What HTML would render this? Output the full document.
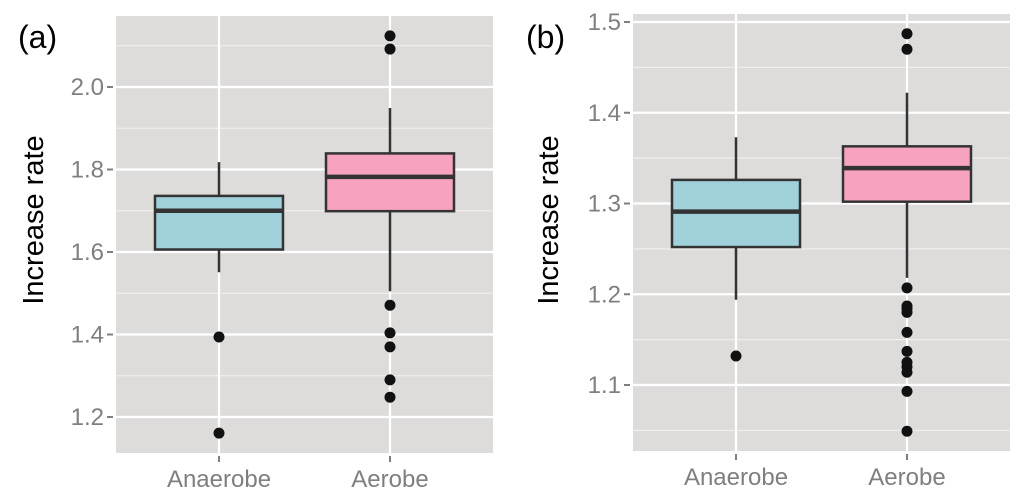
<!DOCTYPE html>
<html><head><meta charset="utf-8"><style>
html,body{margin:0;padding:0;background:#fff;}
svg{display:block;font-family:"Liberation Sans",Arial,sans-serif;}
</style></head><body>
<svg id="chart" width="1024" height="504" viewBox="0 0 1024 504" xmlns="http://www.w3.org/2000/svg"></svg>
<script>
const categories = ["Anaerobe","Aerobe"];
// panel a
const aTicks = [1.2,1.4,1.6,1.8,2.0];
const aTickLabels = ["1.2","1.4","1.6","1.8","2.0"];
const aLow = [1.551,1.505];
const aQ1 = [1.606,1.699];
const aMed = [1.700,1.782];
const aQ3 = [1.736,1.839];
const aHigh = [1.818,1.949];
const aOutAnaerobe = [1.394,1.161];
const aOutAerobe = [2.124,2.092,1.471,1.404,1.370,1.290,1.248];
// panel b
const bTicks = [1.1,1.2,1.3,1.4,1.5];
const bTickLabels = ["1.1","1.2","1.3","1.4","1.5"];
const bLow = [1.194,1.218];
const bQ1 = [1.252,1.302];
const bMed = [1.291,1.339];
const bQ3 = [1.326,1.363];
const bHigh = [1.373,1.422];
const bOutAnaerobe = [1.132];
const bOutAerobe = [1.487,1.470,1.207,1.187,1.184,1.180,1.158,1.137,1.125,1.120,1.114,1.093,1.049];

const NS="http://www.w3.org/2000/svg";
const svg=document.getElementById('chart');
function mk(tag,attrs,parent,text){const e=document.createElementNS(NS,tag);for(const k in attrs)e.setAttribute(k,attrs[k]);if(text!==undefined)e.textContent=text;(parent||svg).appendChild(e);return e;}
const fills=["#a0d1db","#f7a3bf"];

function panel(id,label,o){
  const g=mk('g',{});
  
  
  const y=v=>o.y0+(o.v0-v)*o.k;
  const x=i=>o.cx[i];
  const bg=mk('rect',{x:o.L,y:o.T,width:o.R-o.L,height:o.B-o.T,fill:'#dedcdb'},g);
  
  
  for(let i=0;i<o.ticks.length-1;i++){
    const m=(o.ticks[i]+o.ticks[i+1])/2;
    mk('line',{x1:o.L,x2:o.R,y1:y(m),y2:y(m),stroke:'#f2f2f2','stroke-width':1},g);
  }
  const lo=o.ticks[0]-(o.ticks[1]-o.ticks[0])/2, hi=o.ticks[o.ticks.length-1]+(o.ticks[1]-o.ticks[0])/2;
  [lo,hi].forEach(m=>{if(y(m)>o.T&&y(m)<o.B)mk('line',{x1:o.L,x2:o.R,y1:y(m),y2:y(m),stroke:'#f2f2f2','stroke-width':1},g);});
  o.ticks.forEach((t,i)=>{
    const gl=mk('line',{x1:o.L,x2:o.R,y1:y(t),y2:y(t),stroke:'#fff','stroke-width':2.2},g);
    
    
    mk('line',{x1:o.L-9,x2:o.L-3,y1:y(t),y2:y(t),stroke:'#7f7f7f','stroke-width':2},g);
    const tl=mk('text',{x:o.L-12,y:y(t)+8,'text-anchor':'end','font-size':24,fill:'#7f7f7f'},g,o.tickLabels[i]);
    
    
  });
  categories.forEach((c,i)=>{
    mk('line',{x1:x(i),x2:x(i),y1:o.T,y2:o.B,stroke:'#fff','stroke-width':2.2},g);
    mk('line',{x1:x(i),x2:x(i),y1:o.B+3,y2:o.B+9,stroke:'#7f7f7f','stroke-width':2},g);
    const xl=mk('text',{x:x(i),y:o.B+34,'text-anchor':'middle','font-size':24,fill:'#7f7f7f'},g,c);
    
    
    const w=o.bw;
    const wh=mk('line',{x1:x(i),x2:x(i),y1:y(o.high[i]),y2:y(o.low[i]),stroke:'#333','stroke-width':2.5},g);
    
    
    const bx=mk('rect',{x:x(i)-w/2,y:y(o.q3[i]),width:w,height:y(o.q1[i])-y(o.q3[i]),fill:fills[i],stroke:'#333','stroke-width':2.5},g);
    
    
    const md=mk('line',{x1:x(i)-w/2,x2:x(i)+w/2,y1:y(o.med[i]),y2:y(o.med[i]),stroke:'#333','stroke-width':4.5},g);
    
    
    o.outs[i].forEach(v=>{
      const p=mk('circle',{cx:x(i),cy:y(v),r:5.5,fill:'#111'},g);
      
      
    });
  });
  const at=mk('text',{transform:`translate(${o.titleX},220) rotate(-90)`,'text-anchor':'middle','font-size':29,fill:'#000'},g,'Increase rate');
  
  
  const pl=mk('text',{x:o.labX,y:48,'font-size':32,fill:'#000'},g,label);
  
  
}
panel('panel-a','(a)',{L:116,R:493,T:16,B:453,y0:87,v0:2.0,k:412.5,cx:[219,390],bw:128,ticks:aTicks,tickLabels:aTickLabels,
  low:aLow,q1:aQ1,med:aMed,q3:aQ3,high:aHigh,outs:[aOutAnaerobe,aOutAerobe],titleX:43,labX:18});
panel('panel-b','(b)',{L:633,R:1010,T:14,B:451,y0:22,v0:1.5,k:907.5,cx:[736,907],bw:128,ticks:bTicks,tickLabels:bTickLabels,
  low:bLow,q1:bQ1,med:bMed,q3:bQ3,high:bHigh,outs:[bOutAnaerobe,bOutAerobe],titleX:558,labX:526});
</script>
</body></html>
